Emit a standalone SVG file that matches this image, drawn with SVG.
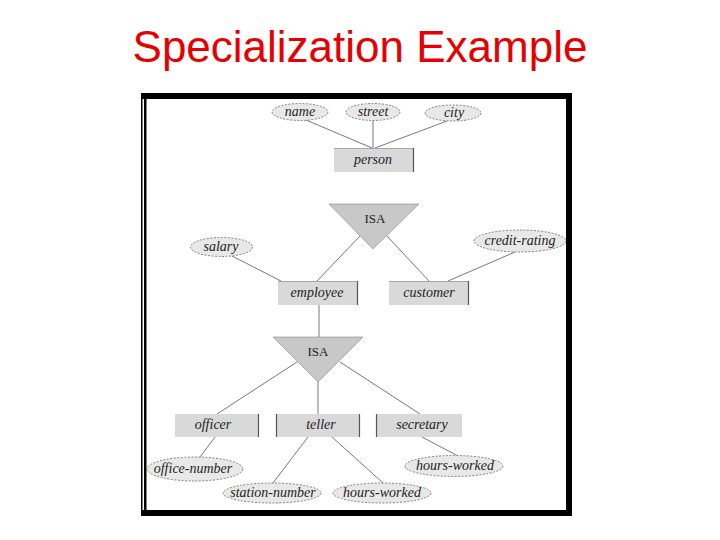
<svg xmlns="http://www.w3.org/2000/svg" width="720" height="540" viewBox="0 0 720 540">
<style>
.title{font-family:"Liberation Sans",Arial,sans-serif;font-size:44px;fill:#e60000}
.ent{fill:#d9d9d9}
.entR{stroke:#555;stroke-width:1.2}
.entT{stroke:#999;stroke-width:0.8}
.att{fill:#e8e8e8;stroke:#666;stroke-width:0.8;stroke-dasharray:2,1.5}
.lbl{font-family:"Liberation Serif","Times New Roman",serif;font-style:italic;font-size:14px;fill:#222;text-anchor:middle;dominant-baseline:central}
.isa{fill:#c8c8c8;stroke:#888;stroke-width:0.6}
.isaT{font-family:"Liberation Serif","Times New Roman",serif;font-size:13px;fill:#222;text-anchor:middle;dominant-baseline:central}
.conn line{stroke:#555;stroke-width:0.8}
.frame{fill:#000}
</style>
<rect width="720" height="540" fill="#fff"/>
<text class="title" x="360" y="62" text-anchor="middle">Specialization Example</text>

<g id="frame">
<rect class="frame" x="141" y="93" width="431" height="6"/>
<rect class="frame" x="566" y="93" width="6" height="423"/>
<rect class="frame" x="141" y="510" width="431" height="6"/>
<rect class="frame" x="141" y="93" width="1.5" height="423"/>
<rect class="frame" x="144" y="93" width="2.5" height="423"/>
</g>

<g id="connectors" class="conn">
<line x1="306" y1="120" x2="372" y2="148"/>
<line x1="373" y1="120" x2="373" y2="148"/>
<line x1="447" y1="121" x2="375" y2="148"/>
<line x1="360" y1="236" x2="317" y2="281"/>
<line x1="387" y1="236" x2="429" y2="281"/>
<line x1="232" y1="256" x2="281" y2="281"/>
<line x1="515" y1="252" x2="448" y2="281"/>
<line x1="319" y1="305" x2="319" y2="337"/>
<line x1="297" y1="362" x2="217" y2="414"/>
<line x1="318" y1="382" x2="318" y2="414"/>
<line x1="340" y1="362" x2="420" y2="414"/>
<line x1="215" y1="437" x2="200" y2="457"/>
<line x1="308" y1="437" x2="273" y2="483"/>
<line x1="332" y1="437" x2="383" y2="483"/>
<line x1="422" y1="437" x2="458" y2="456"/>
</g>

<g id="name"><ellipse class="att" cx="300" cy="112" rx="28" ry="8.5"/><text class="lbl" x="300" y="111">name</text></g>
<g id="street"><ellipse class="att" cx="373" cy="112" rx="27" ry="8.5"/><text class="lbl" x="373" y="111">street</text></g>
<g id="city"><ellipse class="att" cx="453" cy="113" rx="28" ry="8"/><text class="lbl" x="454" y="112">city</text></g>

<g id="person"><rect class="ent" x="334" y="148" width="80" height="24"/><line class="entT" x1="334" y1="148.5" x2="414" y2="148.5"/><line class="entR" x1="413.5" y1="148" x2="413.5" y2="172"/><text class="lbl" x="373" y="159">person</text></g>

<g id="isa1"><polygon class="isa" points="329,204 419,204 373,249"/><text class="isaT" x="375" y="218">ISA</text></g>

<g id="salary"><ellipse class="att" cx="221.5" cy="247" rx="31" ry="9.5"/><text class="lbl" x="221" y="246">salary</text></g>
<g id="credit-rating"><ellipse class="att" cx="520" cy="241" rx="46" ry="11"/><text class="lbl" x="520" y="240">credit-rating</text></g>

<g id="employee"><rect class="ent" x="278" y="281" width="80" height="24"/><line class="entT" x1="278" y1="281.5" x2="358" y2="281.5"/><line class="entR" x1="357.5" y1="281" x2="357.5" y2="305"/><text class="lbl" x="317" y="292">employee</text></g>
<g id="customer"><rect class="ent" x="389" y="281" width="80" height="24"/><line class="entT" x1="389" y1="281.5" x2="469" y2="281.5"/><line class="entR" x1="468.5" y1="281" x2="468.5" y2="305"/><text class="lbl" x="429" y="292">customer</text></g>

<g id="isa2"><polygon class="isa" points="273,337 363,337 318,382"/><text class="isaT" x="318" y="351">ISA</text></g>

<g id="officer"><rect class="ent" x="175" y="414" width="84" height="23"/><line class="entR" x1="258.5" y1="414" x2="258.5" y2="437"/><text class="lbl" x="213" y="424">officer</text></g>
<g id="teller"><rect class="ent" x="276" y="414" width="84" height="23"/><line class="entR" x1="359.5" y1="414" x2="359.5" y2="437"/><line class="entR" x1="276.5" y1="414" x2="276.5" y2="437"/><text class="lbl" x="321" y="424">teller</text></g>
<g id="secretary"><rect class="ent" x="376" y="414" width="86" height="23"/><line class="entR" x1="376.5" y1="414" x2="376.5" y2="437"/><text class="lbl" x="422" y="424">secretary</text></g>

<g id="office-number"><ellipse class="att" cx="195" cy="469" rx="48" ry="12"/><text class="lbl" x="193" y="468">office-number</text></g>
<g id="station-number"><ellipse class="att" cx="272" cy="493" rx="49" ry="10"/><text class="lbl" x="273" y="492">station-number</text></g>
<g id="hours-worked-teller"><ellipse class="att" cx="382" cy="493" rx="49" ry="10"/><text class="lbl" x="382" y="492">hours-worked</text></g>
<g id="hours-worked-secretary"><ellipse class="att" cx="454" cy="466" rx="49" ry="10.5"/><text class="lbl" x="455" y="465">hours-worked</text></g>
</svg>
